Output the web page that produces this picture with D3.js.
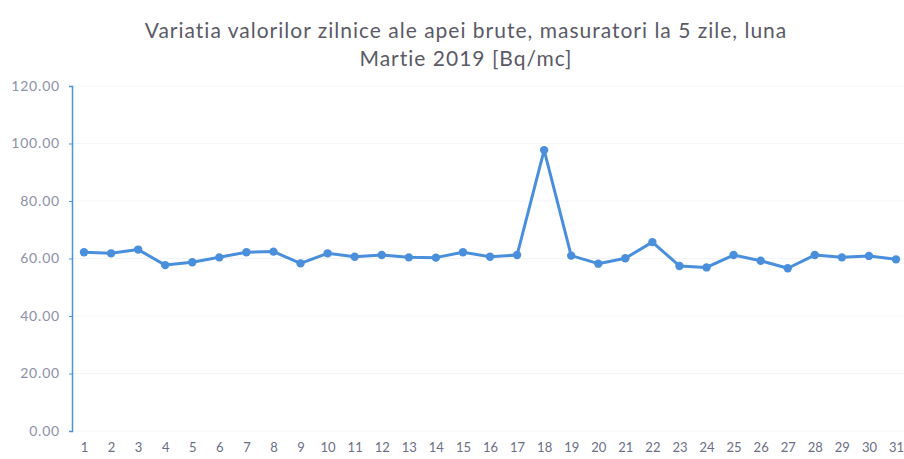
<!DOCTYPE html>
<html><head><meta charset="utf-8">
<script src="https://cdn.jsdelivr.net/npm/d3@7"></script>
<style>body{margin:0;background:#fff}svg{display:block}</style>
</head><body><svg id="c" width="904" height="459"></svg>
<script>
const titleLines = ["Variatia valorilor zilnice ale apei brute, masuratori la 5 zile, luna", "Martie 2019 [Bq/mc]"];
const days = d3.range(1, 32).map(String);
const values = [62.2, 61.8, 63.1, 57.7, 58.7, 60.4, 62.2, 62.4, 58.3, 61.8, 60.6, 61.2, 60.4, 60.3, 62.2, 60.6, 61.2, 97.7, 61.0, 58.2, 60.1, 65.7, 57.4, 56.9, 61.2, 59.2, 56.6, 61.2, 60.4, 60.9, 59.7];
const yTicks = [0, 20, 40, 60, 80, 100, 120];

const svg = d3.select("#c");
const font = "Lato, 'Open Sans', sans-serif";

svg.append("text").attr("x", 466).attr("y", 38).attr("text-anchor", "middle")
  .attr("font-family", font).attr("font-size", 21).attr("letter-spacing", 1).attr("fill", "#5a5a66")
  .selectAll("tspan").data(titleLines).join("tspan")
  .attr("x", 466).attr("dy", (d, i) => i ? 28 : 0).text(d => d);

const x = d3.scalePoint().domain(days).range([84, 896]);
const y = d3.scaleLinear().domain([0, 120]).range([431, 86]);

// faint gridlines
svg.append("g").selectAll("line").data(yTicks).join("line")
  .attr("x1", 72).attr("x2", 904).attr("y1", d => y(d)).attr("y2", d => y(d))
  .attr("stroke", "#f3f4f7").attr("stroke-width", 1);

const ya = svg.append("g").attr("transform", "translate(72,0)")
  .call(d3.axisLeft(y).tickValues(yTicks).tickFormat(d3.format(".2f")).tickSize(3).tickPadding(9));
ya.select(".domain").attr("stroke", "#4a95dc").attr("stroke-width", 1.5);
ya.selectAll(".tick line").attr("stroke", "#4a95dc");
ya.selectAll(".tick text").attr("font-family", font).attr("font-size", 14).attr("letter-spacing", 0.8).attr("fill", "#8c90a8");

const xa = svg.append("g").attr("transform", "translate(0,431)")
  .call(d3.axisBottom(x).tickSize(0).tickPadding(12));
xa.select(".domain").remove();
xa.selectAll(".tick text").attr("font-family", font).attr("font-size", 13).attr("fill", "#6a6e86");

const line = d3.line().x((d, i) => x(days[i])).y(d => y(d));
svg.append("path").datum(values).attr("d", line)
  .attr("fill", "none").attr("stroke", "#4a8fdc").attr("stroke-width", 3).attr("stroke-linejoin", "round");
svg.append("g").selectAll("circle").data(values).join("circle")
  .attr("cx", (d, i) => x(days[i])).attr("cy", d => y(d)).attr("r", 4.2)
  .attr("fill", "#4a8fdc");
</script></body></html>
